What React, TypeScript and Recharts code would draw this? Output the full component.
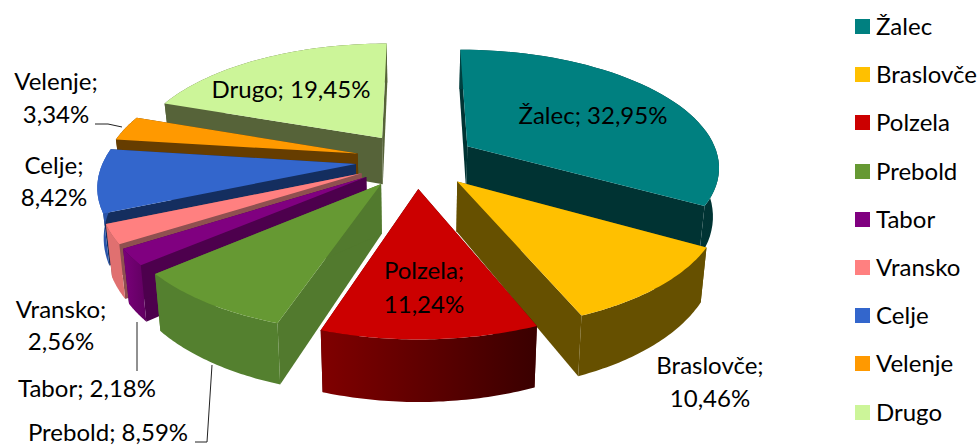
import React from "react";
import { PieChart, Pie, Legend } from "recharts";

const categories = ["Žalec", "Braslovče", "Polzela", "Prebold", "Tabor", "Vransko", "Celje", "Velenje", "Drugo"];
const shares = [32.95, 10.46, 11.24, 8.59, 2.18, 2.56, 8.42, 3.34, 19.45];
const shareLabels = ["32,95%", "10,46%", "11,24%", "8,59%", "2,18%", "2,56%", "8,42%", "3,34%", "19,45%"];
const rows = categories.map((name, i) => ({ name, value: shares[i] }));

// painter's order, back to front
const drawOrder = [8, 0, 7, 6, 5, 4, 1, 3, 2];

const topColors = ["#008080", "#FFC000", "#CC0000", "#669933", "#800080", "#FF8080", "#3366CC", "#FF9900", "#CCF599"];
const cutColors = ["#003333", "#665000", "#520000", "#527A2E", "#4D004D", "#8F5050", "#142E5F", "#663D00", "#566339"];
const rimFrom = ["#004040", "#665000", "#800000", "#54802F", "#7A007A", "#E07070", "#2A55AA", "#663D00", "#566339"];
const rimTo = ["#003333", "#665000", "#3A0000", "#54802F", "#600060", "#E07070", "#2A55AA", "#663D00", "#566339"];

const FONT = "Lato, Carlito, sans-serif";
const FS = 24;
const EXPLODE = 0.24;
const SQUASH = 116 / 252;
const PERSPECTIVE = 0.16;
const DEPTH = 48;
const FOOT = 0.98;

function projector(cx: number, cy: number, rx: number, mid: number) {
  const ry = rx * SQUASH;
  const mx = EXPLODE * Math.sin(mid);
  const my = -EXPLODE * Math.cos(mid);
  return (theta: number, r: number, low: boolean) => {
    const X = r * Math.sin(theta) + mx;
    const Y = -r * Math.cos(theta) + my;
    const s = 1 / (1 - PERSPECTIVE * Y);
    const foot = low ? FOOT : 1;
    const px = cx + rx * X * s * foot;
    const py = cy + ry * Y * s + (low ? DEPTH * Math.pow(s, 1.2) : 0);
    return [px, py];
  };
}

const toPath = (pts: number[][]) =>
  pts.map((p, i) => `${i ? "L" : "M"}${p[0].toFixed(1)} ${p[1].toFixed(1)}`).join(" ") + " Z";

function Slice(props: any) {
  const { cx, cy, outerRadius, startAngle, endAngle, k } = props;
  const rad = Math.PI / 180;
  const t1 = (90 - startAngle) * rad;
  const t2 = (90 - endAngle) * rad;
  const project = projector(cx, cy, outerRadius, (t1 + t2) / 2);
  const arc: number[] = [];
  const n = 48;
  for (let i = 0; i <= n; i++) arc.push(t1 + ((t2 - t1) * i) / n);
  const apexHi = project(0, 0, false);
  const apexLo = project(0, 0, true);
  const hi = arc.map((t) => project(t, 1, false));
  const lo = arc.map((t) => project(t, 1, true));
  const gid = `rim-${k}`;
  const xs = [...hi, ...lo].map((p) => p[0]);
  return (
    <g>
      <defs>
        <linearGradient id={gid} gradientUnits="userSpaceOnUse" x1={Math.min(...xs)} x2={Math.max(...xs)} y1={0} y2={0}>
          <stop offset="0" stopColor={rimFrom[k]} />
          <stop offset="1" stopColor={rimTo[k]} />
        </linearGradient>
      </defs>
      <path d={toPath([apexHi, hi[0], lo[0], apexLo])} fill={cutColors[k]} />
      <path d={toPath([apexHi, hi[n], lo[n], apexLo])} fill={cutColors[k]} />
      <path d={toPath([...hi, ...[...lo].reverse()])} fill={`url(#${gid})`} />
      <path d={toPath([apexHi, ...hi])} fill={topColors[k]} />
    </g>
  );
}

const labelSpots = [
  { x: 593, lines: [124] },
  { x: 710, lines: [374, 407] },
  { x: 424, lines: [279, 313] },
  { x: 108, lines: [441] },
  { x: 87, lines: [397] },
  { x: 61, lines: [318, 350] },
  { x: 54, lines: [174, 206] },
  { x: 56, lines: [90, 123] },
  { x: 291, lines: [98] },
];
const leaders = [
  "M95 124 L108 124 L122 127",
  "M137 322 L137 371",
  "M195 442 L207 442 L212 365",
];

function Labels(props: any) {
  const { index } = props;
  const spot = labelSpots[index];
  const name = categories[index];
  const pct = shareLabels[index];
  const texts = spot.lines.length === 1 ? [`${name}; ${pct}`] : [`${name};`, pct];
  return (
    <g>
      {index === 0 && leaders.map((d) => <path key={d} d={d} fill="none" stroke="#222" strokeWidth={1} />)}
      {texts.map((t, i) => (
        <text key={t} x={spot.x} y={spot.lines[i]} textAnchor="middle" fontFamily={FONT} fontSize={FS} fill="#000">
          {t}
        </text>
      ))}
    </g>
  );
}

function LegendBox() {
  return (
    <div style={{ position: "relative", width: 125, height: 440 }}>
      {categories.map((name, i) => (
        <div key={name} style={{ position: "absolute", left: 0, top: 48.2 * i, height: 48, whiteSpace: "nowrap" }}>
          <span style={{ position: "absolute", left: 0, top: 19, width: 15, height: 15, background: topColors[i] }} />
          <span style={{ position: "absolute", left: 21, top: 12, fontFamily: FONT, fontSize: FS, lineHeight: "28px", color: "#000" }}>
            {name}
          </span>
        </div>
      ))}
    </div>
  );
}

export default function App() {
  return (
    <div style={{ position: "absolute", left: 0, top: 0, width: 980, height: 446, overflow: "hidden", background: "#fff" }}>
      <PieChart width={980} height={446} margin={{ top: 0, right: 0, bottom: 0, left: 0 }}>
        {drawOrder.map((k, layer) => (
          <Pie
            key={k}
            data={rows}
            dataKey="value"
            nameKey="name"
            cx={416}
            cy={160}
            outerRadius={252}
            startAngle={90}
            endAngle={-270}
            paddingAngle={0}
            isAnimationActive={false}
            stroke="none"
            legendType="none"
            labelLine={false}
            label={layer === drawOrder.length - 1 ? (p: any) => <Labels {...p} /> : false}
            shape={(p: any) => (p.index === k ? <Slice {...p} k={k} /> : <g />)}
          />
        ))}
        <Legend content={() => <LegendBox />} wrapperStyle={{ left: 855, top: 0, width: 125 }} />
      </PieChart>
    </div>
  );
}
